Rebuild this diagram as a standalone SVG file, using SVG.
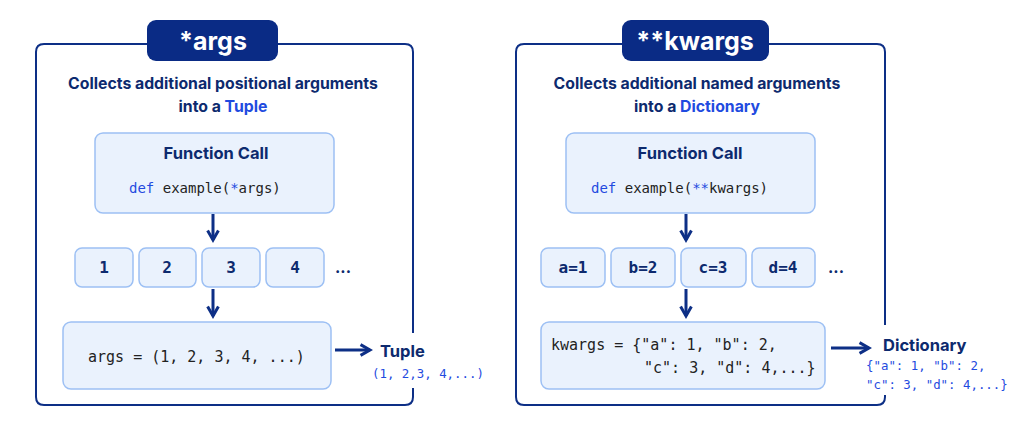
<svg xmlns="http://www.w3.org/2000/svg" width="1024" height="439" viewBox="0 0 1024 439">
<defs>
<style>
.frame{fill:none;stroke:#0d2f86;stroke-width:2}
.pill{fill:#0a2b85}
.pt{font-family:Inter,"Liberation Sans",sans-serif;font-weight:700;font-size:25px;fill:#fff;text-anchor:middle}
.sub{font-family:Inter,"Liberation Sans",sans-serif;font-weight:700;font-size:15.8px;fill:#0d2a6e;text-anchor:middle}
.hl{fill:#1f4be0}
.box{fill:#eaf2fd;stroke:#9dc0f4;stroke-width:1.5}
.h{font-family:Inter,"Liberation Sans",sans-serif;font-weight:700;font-size:16.5px;fill:#0d2a6e;text-anchor:middle}
.code{font-family:"DejaVu Sans Mono",monospace;font-size:14px;fill:#222}
.code2{font-family:"DejaVu Sans Mono",monospace;font-size:15px;fill:#222}
.kw{fill:#1f4be0}
.num{font-family:"DejaVu Sans Mono",monospace;font-weight:700;font-size:16px;fill:#0d2a6e;text-anchor:middle}
.dots{font-family:Inter,"Liberation Sans",sans-serif;font-weight:700;font-size:16px;fill:#0d2a6e}
.bc{font-family:"DejaVu Sans Mono",monospace;font-size:12.4px;fill:#1f4be0}
.ar{stroke:#0d2f86;stroke-width:3;fill:none}
</style>
<marker id="ah" viewBox="0 0 10 10" refX="8" refY="5" markerWidth="4.5" markerHeight="4.5" orient="auto"><path d="M1,1 L8,5 L1,9" fill="none" stroke="#0d2f86" stroke-width="2.2"/></marker>
</defs>
<rect width="1024" height="439" fill="#fff"/>

<g id="args-panel">
<path class="frame" d="M147,44 H44 Q36,44 36,52 V397 Q36,405 44,405 H405 Q413,405 413,397 V388 M413,333 V52 Q413,44 405,44 H278"/>
<rect class="pill" x="147" y="20" width="131" height="41" rx="9"/>
<text class="pt" x="213" y="50">*args</text>
<text class="sub" x="223" y="89">Collects additional positional arguments</text>
<text class="sub" x="223" y="112">into a <tspan class="hl">Tuple</tspan></text>
</g>
<g id="args-call">
<rect class="box" x="95" y="133" width="239" height="80" rx="8"/>
<text class="h" x="216" y="159">Function Call</text>
<text class="code" x="129" y="193"><tspan class="kw">def</tspan> example(<tspan class="kw">*</tspan>args)</text>
</g>
<g id="args-items">
<rect class="box" x="75" y="248" width="58" height="39" rx="7"/><text class="num" x="104" y="273">1</text>
<rect class="box" x="139" y="248" width="57" height="39" rx="7"/><text class="num" x="167" y="273">2</text>
<rect class="box" x="202" y="248" width="58" height="39" rx="7"/><text class="num" x="231" y="273">3</text>
<rect class="box" x="266" y="248" width="58" height="39" rx="7"/><text class="num" x="295" y="273">4</text>
<text class="dots" x="335" y="273">...</text>
</g>
<g id="args-result">
<rect class="box" x="63" y="322" width="268" height="67" rx="8"/>
<text class="code2" x="88" y="362">args = (1, 2, 3, 4, ...)</text>
</g>
<g id="tuple-label">
<text class="h" x="380" y="357" style="text-anchor:start">Tuple</text>
<text class="bc" x="372" y="378">(1, 2,3, 4,...)</text>
</g>

<g id="kwargs-panel">
<path class="frame" d="M622,44 H524 Q516,44 516,52 V397 Q516,405 524,405 H877 Q885,405 885,397 V395 M885,325 V52 Q885,44 877,44 H769"/>
<rect class="pill" x="622" y="20" width="147" height="41" rx="9"/>
<text class="pt" x="695" y="50">**kwargs</text>
<text class="sub" x="697" y="89">Collects additional named arguments</text>
<text class="sub" x="697" y="112">into a <tspan class="hl">Dictionary</tspan></text>
</g>
<g id="kwargs-call">
<rect class="box" x="566" y="133" width="249" height="80" rx="8"/>
<text class="h" x="690" y="159">Function Call</text>
<text class="code" x="591" y="193"><tspan class="kw">def</tspan> example(<tspan class="kw">**</tspan>kwargs)</text>
</g>
<g id="kwargs-items">
<rect class="box" x="541" y="248" width="64" height="39" rx="7"/><text class="num" x="573" y="273">a=1</text>
<rect class="box" x="611" y="248" width="64" height="39" rx="7"/><text class="num" x="643" y="273">b=2</text>
<rect class="box" x="681" y="248" width="65" height="39" rx="7"/><text class="num" x="713" y="273">c=3</text>
<rect class="box" x="752" y="248" width="63" height="39" rx="7"/><text class="num" x="783" y="273">d=4</text>
<text class="dots" x="828" y="273">...</text>
</g>
<g id="kwargs-result">
<rect class="box" x="541" y="322" width="284" height="67" rx="8"/>
<text class="code2" x="551" y="350">kwargs = {"a": 1, "b": 2,</text>
<text class="code2" x="644" y="373">"c": 3, "d": 4,...}</text>
</g>
<g id="dict-label">
<text class="h" x="883" y="351" style="text-anchor:start">Dictionary</text>
<text class="bc" x="866" y="370">{"a": 1, "b": 2,</text>
<text class="bc" x="866" y="389">"c": 3, "d": 4,...}</text>
</g>

<g id="connectors">
<line class="ar" x1="213" y1="214" x2="213" y2="240" marker-end="url(#ah)"/>
<line class="ar" x1="213" y1="289" x2="213" y2="316" marker-end="url(#ah)"/>
<line class="ar" x1="335" y1="350" x2="370" y2="350" marker-end="url(#ah)"/>
<line class="ar" x1="686" y1="214" x2="686" y2="240" marker-end="url(#ah)"/>
<line class="ar" x1="686" y1="289" x2="686" y2="316" marker-end="url(#ah)"/>
<line class="ar" x1="831" y1="348" x2="869" y2="348" marker-end="url(#ah)"/>
</g>
</svg>
